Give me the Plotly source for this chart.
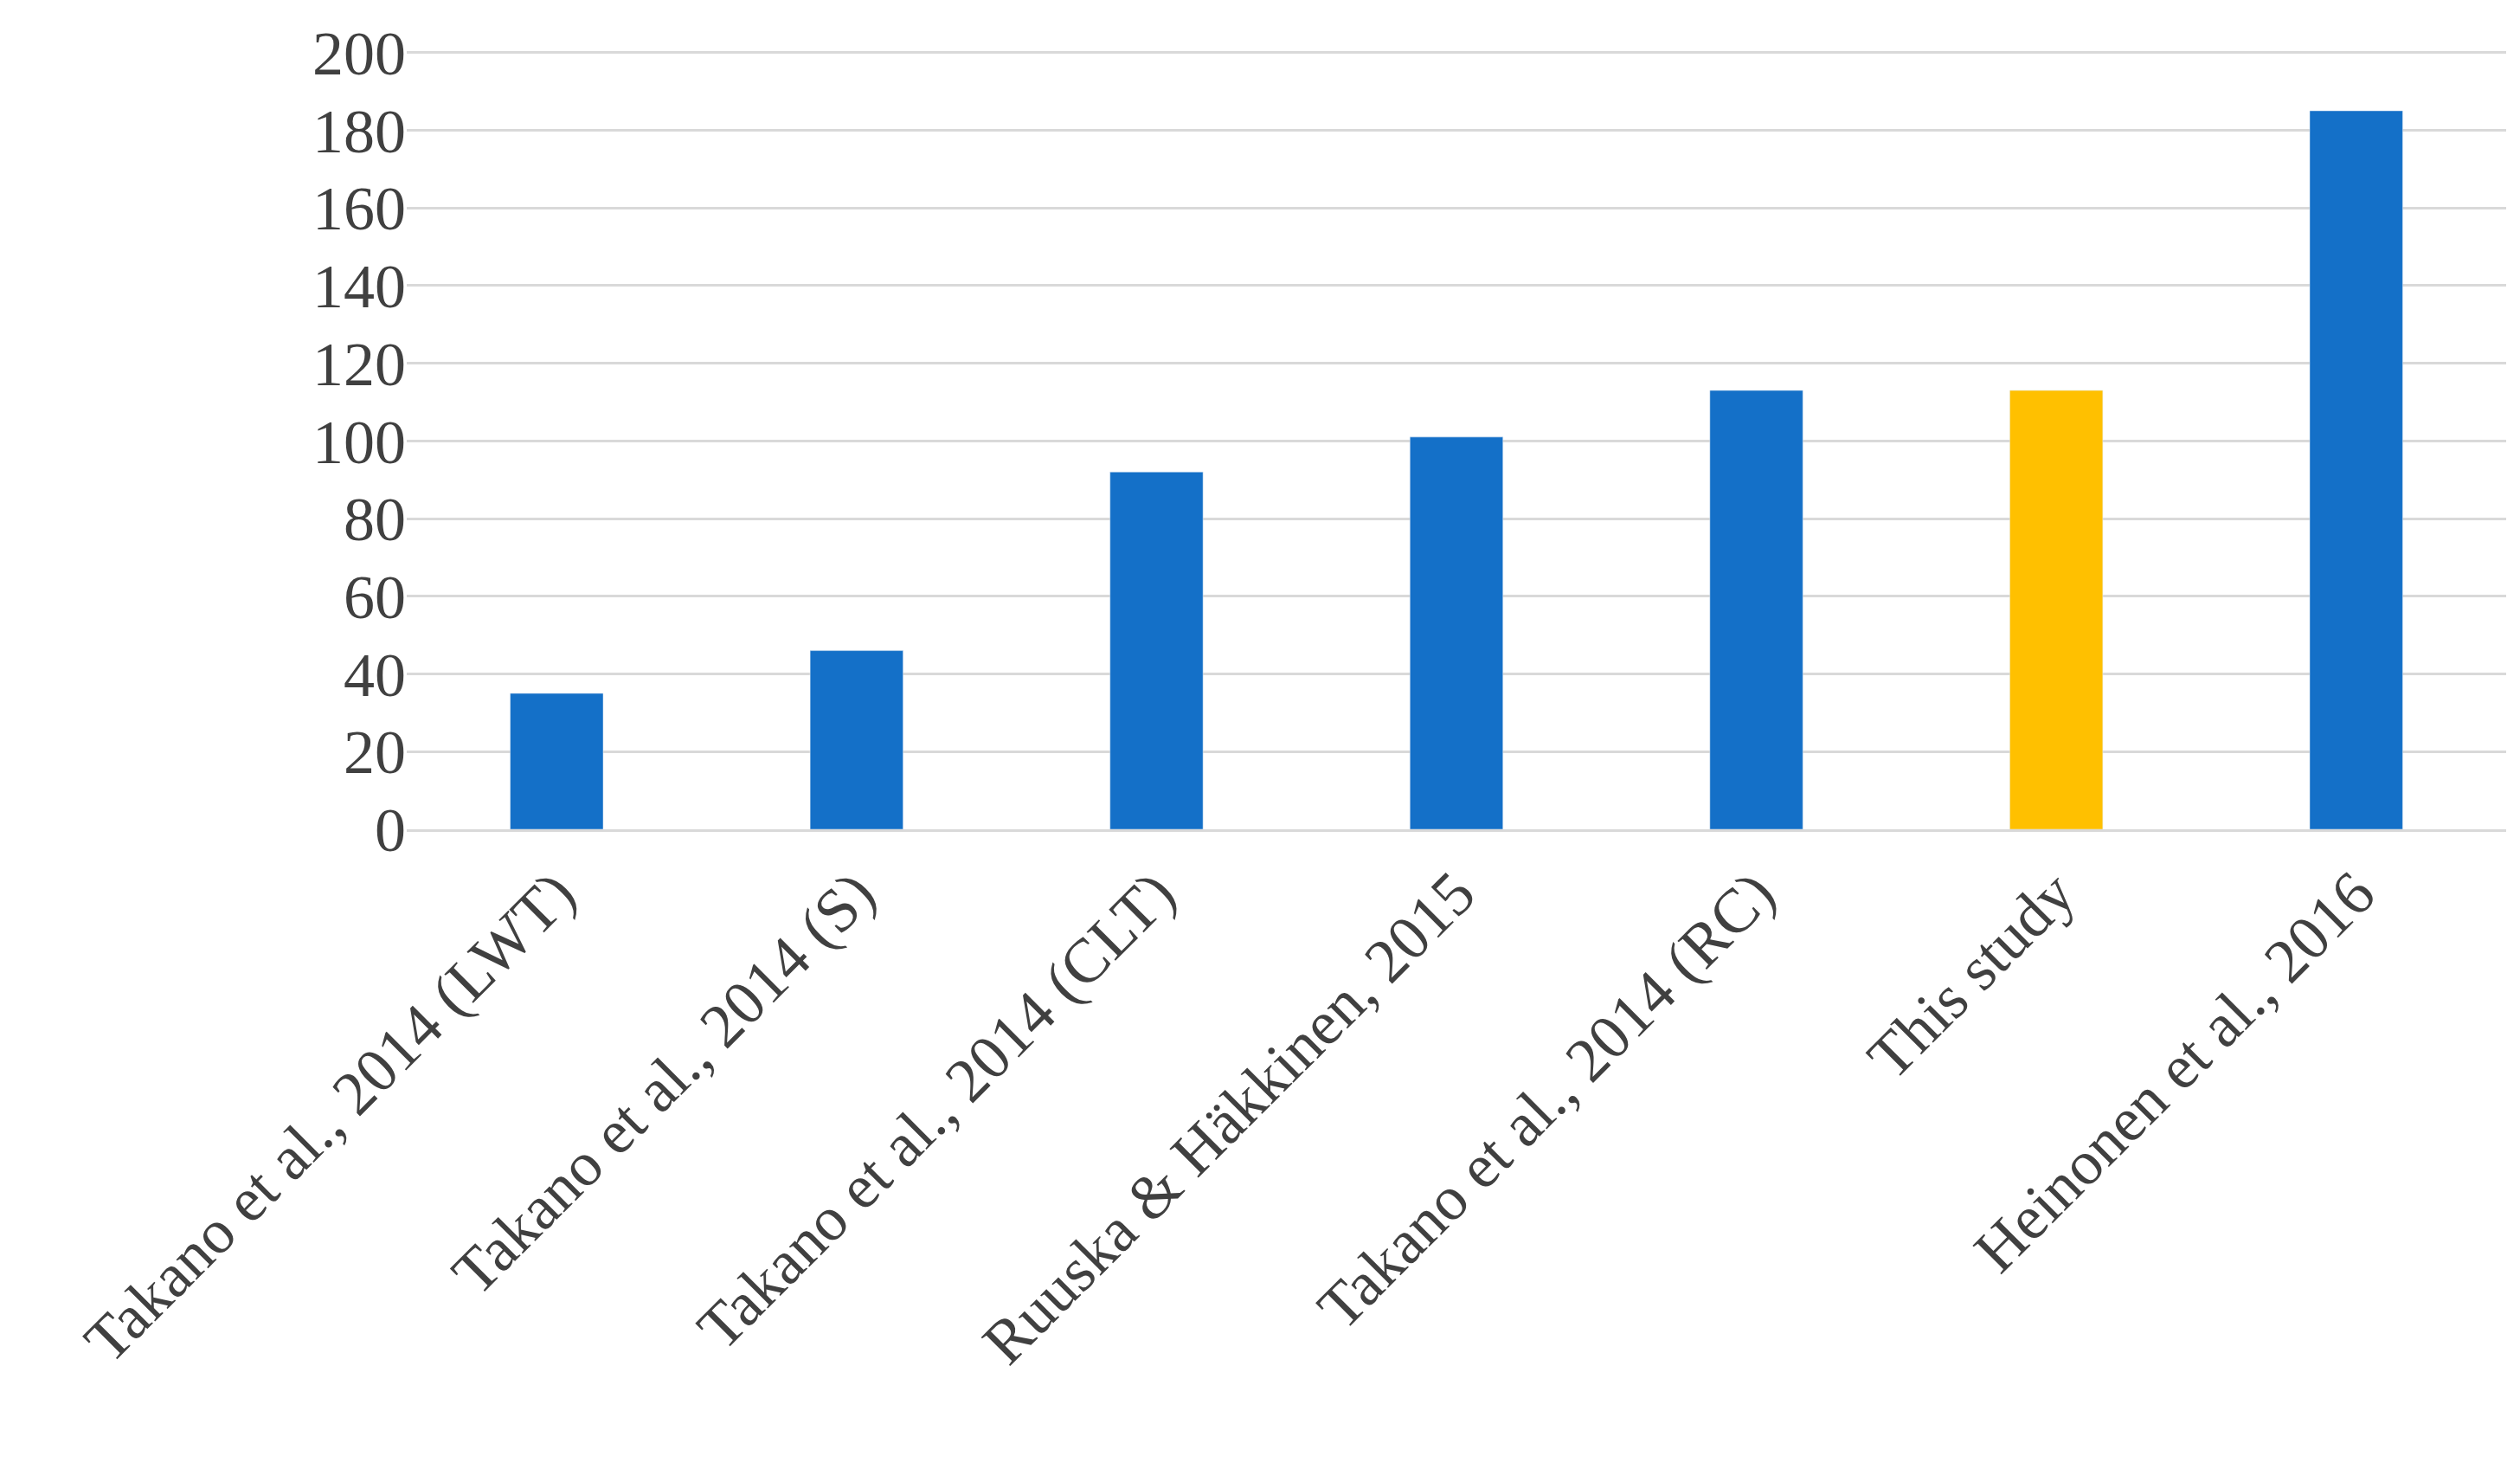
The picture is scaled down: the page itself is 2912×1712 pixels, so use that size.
import plotly.graph_objects as go

categories = ["Takano et al., 2014 (LWT)", "Takano et al., 2014 (S)", "Takano et al., 2014 (CLT)",
              "Ruuska & Häkkinen, 2015", "Takano et al., 2014 (RC)", "This study", "Heinonen et al., 2016"]
values = [35, 46, 92, 101, 113, 113, 185]
colors = ["#1470C8"] * 5 + ["#FFC000", "#1470C8"]
y_ticks = [0, 20, 40, 60, 80, 100, 120, 140, 160, 180, 200]

fig = go.Figure(go.Bar(x=categories, y=values, marker_color=colors, width=0.31))
fig.update_layout(
    width=2912, height=1712, plot_bgcolor="white", paper_bgcolor="white",
    margin=dict(l=462, r=24, t=50, b=762),
    font=dict(family="Liberation Serif, DejaVu Serif, serif", size=72, color="#404040"),
    showlegend=False,
)
fig.update_xaxes(tickangle=-45, showline=True, linecolor="#D9D9D9", linewidth=3, ticks="")
fig.update_yaxes(range=[0, 200.6], tickvals=y_ticks, showgrid=True, gridcolor="#D9D9D9",
                 gridwidth=3, zeroline=False, ticks="", ticksuffix="  ")
fig.write_html("out.html")
